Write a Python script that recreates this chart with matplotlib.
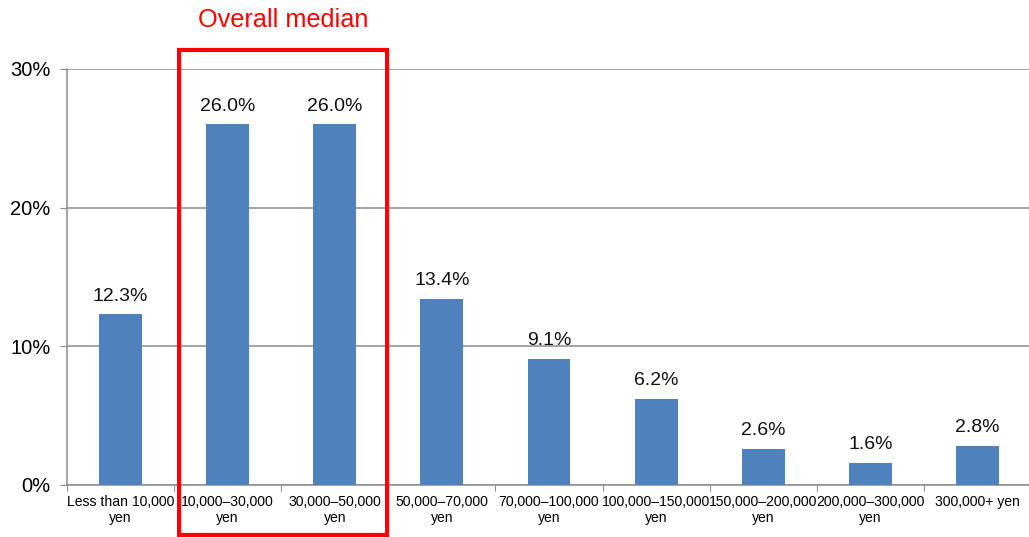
import matplotlib.pyplot as plt
from matplotlib.patches import Rectangle
from matplotlib.transforms import blended_transform_factory

plt.rcParams['font.family'] = ['Liberation Sans', 'DejaVu Sans']

# Share of respondents by monthly amount bracket
categories = ["Less than 10,000\nyen", "10,000\u201330,000\nyen", "30,000\u201350,000\nyen",
              "50,000\u201370,000\nyen", "70,000\u2013100,000\nyen", "100,000\u2013150,000\nyen",
              "150,000\u2013200,000\nyen", "200,000\u2013300,000\nyen", "300,000+ yen"]
shares = [12.3, 26.0, 26.0, 13.4, 9.1, 6.2, 2.6, 1.6, 2.8]
y_ticks = [0, 10, 20, 30]

fig = plt.figure(figsize=(10.29, 5.37), dpi=100)
ax = fig.add_axes([67 / 1029, 52 / 537, 964 / 1029, 416 / 537])

x = range(len(shares))
bars = ax.bar(x, shares, width=0.4, color="#4F81BD", zorder=3)

for xi, v in zip(x, shares):
    ax.annotate(f"{v:.1f}%", (xi, v), xytext=(0, 7), textcoords="offset points",
                ha="center", va="bottom", fontsize=14, color="#111111")

ax.set_xlim(-0.5, len(shares) - 0.5)
ax.set_ylim(0, 30)
ax.set_yticks(y_ticks)
ax.set_yticklabels([f"{t}%" for t in y_ticks], fontsize=14.5)
ax.yaxis.grid(True, color="#8c8c8c", linewidth=1.1, zorder=0)

ax.set_xticks([i - 0.5 for i in range(len(shares) + 1)])
ax.set_xticklabels([])
ax.set_xticks(list(x), minor=True)
ax.set_xticklabels(categories, minor=True, fontsize=10.1, linespacing=1.2)
ax.tick_params(axis="x", which="minor", length=0, pad=7)
ax.tick_params(axis="x", which="major", length=4, color="#8c8c8c")
ax.tick_params(axis="y", length=5, color="#8c8c8c", pad=7)

for s in ["top", "right"]:
    ax.spines[s].set_visible(False)
ax.spines["left"].set_color("#8c8c8c")
ax.spines["bottom"].set_color("#8c8c8c")
ax.spines["left"].set_linewidth(1.1)
ax.spines["bottom"].set_linewidth(1.1)

# box around the two median brackets
trans = blended_transform_factory(ax.transData, fig.transFigure)
box = Rectangle((0.55, 2 / 537), 1.94, 485 / 537, transform=trans, fill=False,
                edgecolor="red", linewidth=3, clip_on=False, zorder=5)
fig.add_artist(box)
fig.text(283 / 1029, 1 - 20 / 537, "Overall median", color="red", fontsize=18.2,
         ha="center", va="center")

fig.savefig("out.png", dpi=100)
